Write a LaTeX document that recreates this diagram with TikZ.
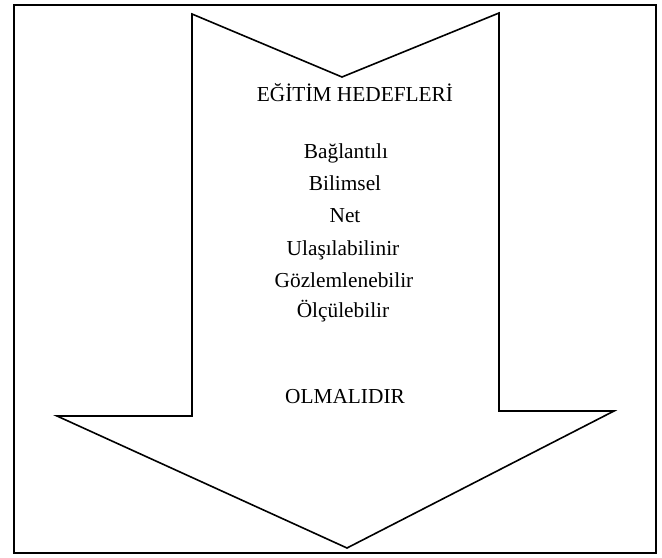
\documentclass[tikz,border=0pt]{standalone}
\usepackage{fontspec}
\setmainfont{Liberation Serif}
\tikzset{
  lbl/.style={anchor=base, inner sep=0pt, font=\fontsize{16}{19}\selectfont},
  frame/.style={draw=black, line width=1.6pt},
  arrowshape/.style={draw=black, line width=1.2pt, line join=miter}
}
\begin{document}
\begin{tikzpicture}[x=0.75pt, y=-0.75pt]
\useasboundingbox (0,0) rectangle (662,558);
\draw[frame] (14,5) rectangle (656,553);
\draw[arrowshape] (192,14) -- (342,77) -- (499,13) -- (499,411) -- (614,411)
  -- (347,548) -- (57,416) -- (192,416) -- cycle;
\node[lbl] (title) at (355,101) {EĞİTİM HEDEFLERİ};
\node[lbl] (l1) at (346,158) {Bağlantılı};
\node[lbl] (l2) at (345,190) {Bilimsel};
\node[lbl] (l3) at (345,222) {Net};
\node[lbl] (l4) at (343,255) {Ulaşılabilinir};
\node[lbl] (l5) at (344,287) {Gözlemlenebilir};
\node[lbl] (l6) at (343,317) {Ölçülebilir};
\node[lbl] (end) at (345,403) {OLMALIDIR};
\end{tikzpicture}
\end{document}
